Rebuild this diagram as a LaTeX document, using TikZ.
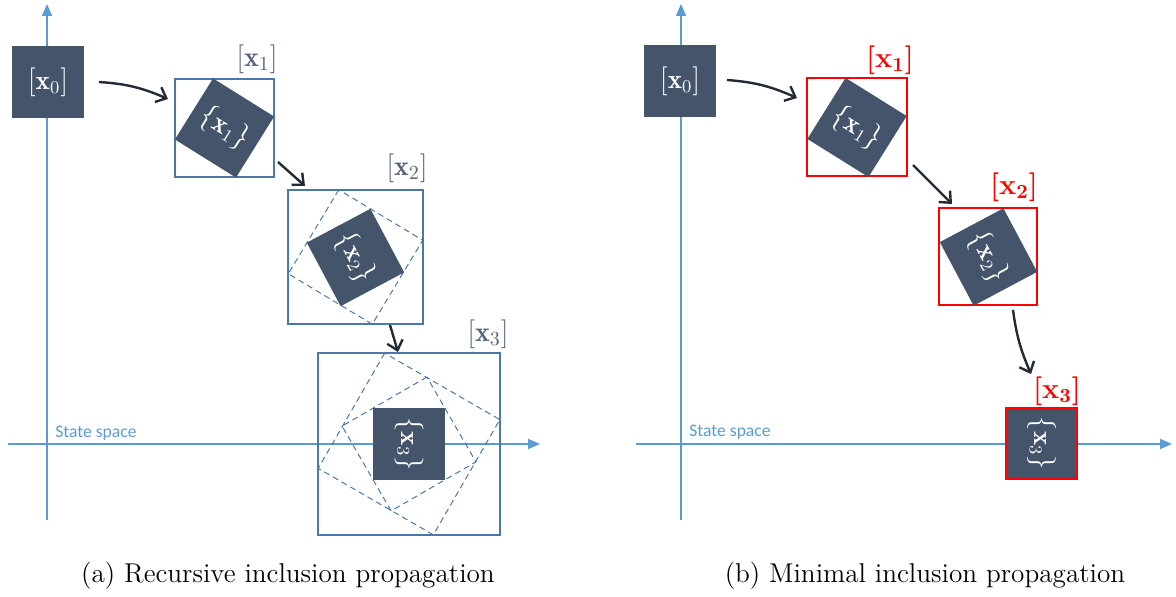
\documentclass[tikz,border=0pt]{standalone}
\usepackage{fontspec}
\newfontfamily\calibri{Carlito}
\usetikzlibrary{arrows.meta,bending}
\definecolor{darkbox}{HTML}{44546A}
\definecolor{axisblue}{HTML}{5B9BD5}
\definecolor{boxblue}{HTML}{4A78AA}
\definecolor{labgray}{HTML}{56657C}
\definecolor{arrdark}{HTML}{222A35}
\definecolor{redzero}{HTML}{FF0000}
\begin{document}
\begin{tikzpicture}[x=0.5pt,y=-0.5pt,
  axis/.style={axisblue, line width=0.8pt, -{Triangle[length=6pt,width=5pt]}},
  solidbox/.style={fill=darkbox, text=white, minimum size=36pt, inner sep=0pt, font=\fontsize{13.5}{15}\selectfont},
  outline/.style={draw=boxblue, line width=0.6pt},
  dashline/.style={draw=boxblue, dash pattern=on 3pt off 2pt, line width=0.5pt},
  redline/.style={draw=redzero, line width=0.55pt},
  lab/.style={text=labgray, font=\fontsize{14}{16}\selectfont},
  redlab/.style={text=redzero, font=\fontsize{14}{16}\selectfont\boldmath},
  arr/.style={arrdark, line width=1.2pt, -{Straight Barb[length=4.5pt,width=8pt]}},
  statelab/.style={text=axisblue, font=\calibri\fontsize{8.8}{10}\selectfont, anchor=base west, inner sep=0pt},
  caption/.style={font=\fontsize{13.6}{15}\selectfont, anchor=base, inner sep=0pt}
]
\useasboundingbox (0,0) rectangle (1176,597);

% ---------------- left panel ----------------
\coordinate (lyb) at (47,520);
\coordinate (lyt) at (47,4);
\coordinate (lxl) at (8,444);
\coordinate (lxr) at (540,444);
\draw[axis] (lyb) -- (lyt);
\draw[axis] (lxl) -- (lxr);
\node[statelab] (lstate) at (55,438) {State space};

\node[solidbox] (lx0) at (48,82) {$[\mathbf{x}_0]$};

% step 1
\draw[outline] (175,79) rectangle (274,177);
\node[solidbox, rotate=-32] (ls1) at (224.5,128) {$\{\mathbf{x}_1\}$};
\node[lab] (ll1) at (257,59) {$[\mathbf{x}_1]$};

% step 2
\draw[outline] (288,190) rectangle (423,324);
\draw[dashline, shift={(355.5,257)}, rotate=-31] (-49,-49) rectangle (49,49);
\node[solidbox, rotate=-62] (ls2) at (355.5,257.5) {$\{\mathbf{x}_2\}$};
\node[lab] (ll2) at (407,168) {$[\mathbf{x}_2]$};

% step 3
\draw[outline] (318,353) rectangle (500,535);
\draw[dashline, shift={(409,444)}, rotate=-30] (-66.5,-66.5) rectangle (66.5,66.5);
\draw[dashline, shift={(409,444)}, rotate=-60] (-49,-49) rectangle (49,49);
\node[solidbox, rotate=-90] (ls3) at (409,444) {$\{\mathbf{x}_3\}$};
\node[lab] (ll3) at (488,334) {$[\mathbf{x}_3]$};

\coordinate (la1s) at (99,82);
\coordinate (la1e) at (168,99);
\coordinate (la2s) at (278,162);
\coordinate (la2e) at (305,186);
\coordinate (la3s) at (390,325);
\coordinate (la3e) at (398,352);
\draw[arr] (la1s) to[bend left=10] (la1e);
\draw[arr] (la2s) -- (la2e);
\draw[arr] (la3s) -- (la3e);

\node[caption] (capa) at (288,582) {(a) Recursive inclusion propagation};

% ---------------- right panel ----------------
\coordinate (ryb) at (681,520);
\coordinate (ryt) at (681,4);
\coordinate (rxl) at (636,444);
\coordinate (rxr) at (1172,444);
\draw[axis] (ryb) -- (ryt);
\draw[axis] (rxl) -- (rxr);
\node[statelab] (rstate) at (689,437) {State space};

\node[solidbox] (rx0) at (680,81) {$[\mathbf{x}_0]$};

\draw[redline] (807,78) rectangle (907,176);
\node[solidbox, rotate=-32] (rs1) at (857,127.5) {$\{\mathbf{x}_1\}$};
\node[redlab] (rl1) at (890,60) {$[\mathbf{x}_1]$};

\draw[redline] (939,208) rectangle (1037,305);
\node[solidbox, rotate=-62] (rs2) at (988.5,257) {$\{\mathbf{x}_2\}$};
\node[redlab] (rl2) at (1014,187) {$[\mathbf{x}_2]$};

\node[solidbox, draw=redzero, line width=0.6pt, minimum size=35.5pt, rotate=-90] (rs3) at (1041.5,443.5) {$\{\mathbf{x}_3\}$};
\node[redlab] (rl3) at (1057,391) {$[\mathbf{x}_3]$};

\coordinate (ra1s) at (727,80);
\coordinate (ra1e) at (797,98);
\coordinate (ra2s) at (913,165);
\coordinate (ra2e) at (952,204);
\coordinate (ra3s) at (1013,310);
\coordinate (ra3e) at (1031,374);
\draw[arr] (ra1s) to[bend left=10] (ra1e);
\draw[arr] (ra2s) -- (ra2e);
\draw[arr] (ra3s) to[bend right=8] (ra3e);

\node[caption] (capb) at (925,582) {(b) Minimal inclusion propagation};
\end{tikzpicture}
\end{document}
